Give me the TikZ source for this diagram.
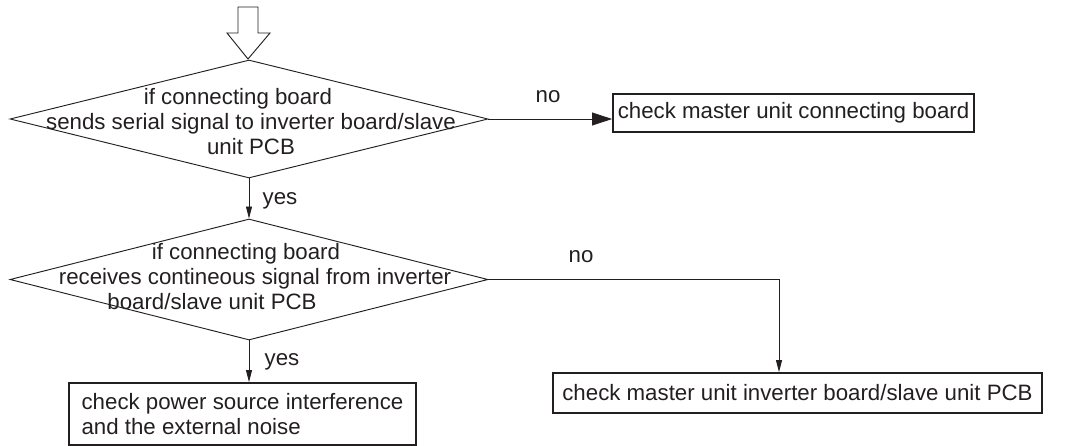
\documentclass[tikz,border=0pt]{standalone}
\usepackage{fontspec}
\setmainfont{Liberation Sans}
\usetikzlibrary{shapes.geometric,arrows.meta,calc}
\definecolor{ink}{HTML}{231F20}
\begin{document}
\begin{tikzpicture}[x=0.75pt,y=-0.75pt,
  txt/.style={font=\fontsize{16.7}{18.75}\selectfont, text=ink},
  dia/.style={diamond, draw=ink, line width=0.7pt, inner sep=0pt, minimum width=358.5pt},
  box/.style={draw=ink, line width=1.4pt, align=left, inner sep=0pt, txt},
  conn/.style={draw=ink, line width=0.6pt, -{Triangle[length=9pt,width=4.5pt]}},
  bigconn/.style={draw=ink, line width=0.6pt, -{Triangle[length=15pt,width=9.75pt]}},
  lbl/.style={txt, inner sep=0pt}]
\useasboundingbox (0,0) rectangle (1067,446);
% start arrow
\draw[draw=ink, line width=0.7pt, fill=white] (238,7) -- (258,7) -- (258,33) -- (270,33) -- (248,59) -- (227,33) -- (238,33) -- cycle;
% decisions
\node[dia, minimum height=88.5pt] (d1) at (249,119) {};
\node[txt, align=center, inner sep=0pt] (t1) at (251,122) {if connecting board\hspace*{19.5pt}\\sends serial signal to inverter board/slave\\unit PCB};
\node[dia, minimum height=90.75pt] (d2) at (249,279.5) {};
\node[txt, align=center, inner sep=0pt] (t2) at (255,277) {if connecting board\hspace*{13.5pt}\\receives contineous signal from inverter\\board/slave unit PCB\hspace*{64.5pt}};
% boxes
\node[box, minimum width=270.75pt, minimum height=28.5pt] (b1) at (793.5,113) {check master unit connecting board};
\node[box, minimum width=260.25pt, minimum height=46.5pt] (b2) at (242.5,414) {check power source interference\\and the external noise};
\node[box, minimum width=366.75pt, minimum height=30pt] (b3) at (797.5,393) {check master unit inverter board/slave unit PCB};
% connectors
\draw[bigconn] (d1.east) -- (d1.east -| b1.west);
\draw[conn] (d1.south) -- (d2.north);
\coordinate (k) at (779,279.5);
\draw[conn] (d2.east) -| (b3.north -| k);
\draw[conn] (d2.south) -- (d2.south |- b2.north);
% labels
\node[lbl] (no1) at (548,97) {no};
\node[lbl] (yes1) at (280,201) {yes};
\node[lbl] (no2) at (581,257) {no};
\node[lbl] (yes2) at (282,362) {yes};
\end{tikzpicture}
\end{document}
